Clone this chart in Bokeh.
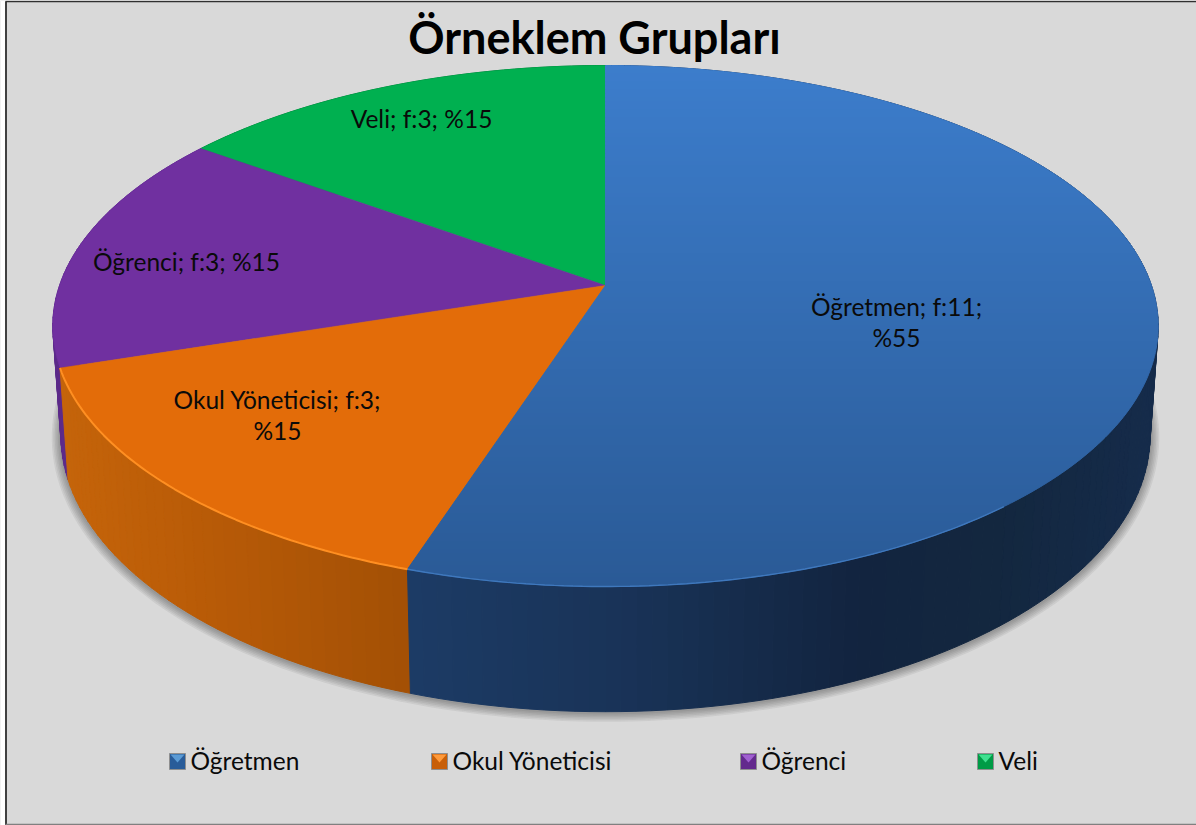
import numpy as np
from bokeh.plotting import figure
from bokeh.models import Range1d
from bokeh.core.properties import value
from bokeh.embed import file_html
from bokeh.resources import INLINE

# ---- data ----
title = "Örneklem Grupları"
categories = ["Öğretmen", "Okul Yöneticisi", "Öğrenci", "Veli"]
counts = [11, 3, 3, 3]
percents = [55, 15, 15, 15]
top_colors = ["#2f69ae", "#e36c09", "#7030a0", "#00b050"]
light_colors = ["#5b9bd5", "#ff9a3a", "#a060d0", "#40e090"]
# ---- layout (pixel positions of the page) ----
FONT = value("Lato")
CX = 605.0
K = 0.1555
TOP = dict(y0=285.0, A=254.2, B=546.0)
BOT = dict(y0=391.5, A=270.0, B=538.0)
label_xy = [(896, 321.5), (277, 414.5), (186, 260.5), (421, 118)]
label_wrap = [True, True, False, False]
legend_sq = [177, 439, 748, 985]

cum = np.cumsum([0] + counts) / sum(counts) * 2 * np.pi


def proj(t, g, grow=0.0):
    t = np.asarray(t, float)
    u, v = np.sin(t), np.cos(t)
    d = 1 + K * v
    return CX + (g["B"] + grow) * u / d, g["y0"] - grow * v - g["A"] * v / d


def mix(stops, x):
    xs = [s[0] for s in stops]
    ch = [[int(s[1][i:i + 2], 16) for s in stops] for i in (1, 3, 5)]
    return "#%02x%02x%02x" % tuple(int(round(np.interp(x, xs, c))) for c in ch)


def clip_band(poly, y1, y2):
    def clip(pts, keep, cross):
        out = []
        for i in range(len(pts)):
            a, b = pts[i - 1], pts[i]
            if keep(b):
                if not keep(a):
                    out.append(cross(a, b))
                out.append(b)
            elif keep(a):
                out.append(cross(a, b))
        return out

    def cut(y0):
        return lambda a, b: (a[0] + (y0 - a[1]) / (b[1] - a[1]) * (b[0] - a[0]), y0)

    pts = clip(poly, lambda p: p[1] >= y1, cut(y1))
    return clip(pts, lambda p: p[1] <= y2, cut(y2)) if pts else []


p = figure(width=1196, height=825, x_range=Range1d(0, 1196), y_range=Range1d(825, 0),
           output_backend="svg", toolbar_location=None,
           x_axis_location=None, y_axis_location=None,
           background_fill_color="#d9d9d9", border_fill_color="#d9d9d9",
           min_border=0, outline_line_color=None)
p.grid.visible = False

# frame of the picture
p.quad(left=[0], right=[5], top=[0], bottom=[825], fill_color="#ffffff", line_color=None)
p.segment([5.5], [1], [5.5], [825], line_color="#404040", line_width=2)
p.segment([5], [1], [1196], [1], line_color="#303030", line_width=1.5)
p.segment([5], [824], [1196], [824], line_color="#808080", line_width=1.5)

# soft shadow below the cylinder
ring = np.linspace(0, 2 * np.pi, 240)
for g in [9, 7.5, 6, 4.5, 3, 1.5]:
    sx, sy = proj(ring, BOT, grow=g)
    p.patch(sx, sy + 1, fill_color="#303030", fill_alpha=0.08, line_color=None)

# side wall, back to front
side_stops = [
    [(412, "#1c3b65"), (620, "#193358"), (860, "#12243f"), (1000, "#13273f"), (1150, "#152b4a")],
    [(60, "#c5640a"), (200, "#b95b07"), (408, "#a35005")],
    [(50, "#5c2a8a"), (80, "#5c2a8a")],
    [(200, "#007a38"), (600, "#007a38")],
]
quads = []
for i in range(len(counts)):
    n = max(2, int((cum[i + 1] - cum[i]) / (2 * np.pi) * 260))
    ts = np.linspace(cum[i], cum[i + 1], n + 1)
    for a, b in zip(ts[:-1], ts[1:]):
        xa, ya = proj(a, TOP)
        xb, yb = proj(b, TOP)
        xc, yc = proj(b, BOT)
        xd, yd = proj(a, BOT)
        quads.append((np.cos((a + b) / 2), i, [xa, xb, xc, xd], [ya, yb, yc, yd], (xa + xb) / 2))
quads.sort(key=lambda q: -q[0])
cols = [mix(side_stops[q[1]], q[4]) for q in quads]
p.patches([q[2] for q in quads], [q[3] for q in quads], fill_color=cols, line_color=cols, line_width=1)

# top face
for i in [3, 2, 1]:
    ts = np.linspace(cum[i], cum[i + 1], 90)
    rx, ry = proj(ts, TOP)
    p.patch([CX] + list(rx), [TOP["y0"]] + list(ry), fill_color=top_colors[i],
            line_color=top_colors[i], line_width=0.5)

ts = np.linspace(cum[0], cum[1], 260)
rx, ry = proj(ts, TOP)
blue_poly = [(CX, TOP["y0"])] + list(zip(rx, ry))
ymin, ymax = min(ry), max(ry)
edges = np.arange(ymin, ymax + 4, 4)
bx, by, bc = [], [], []
for y1, y2 in zip(edges[:-1], edges[1:]):
    c = clip_band(blue_poly, y1, y2)
    if c:
        bx.append([q[0] for q in c])
        by.append([q[1] for q in c])
        bc.append(mix([(65, "#3c7dcc"), (586, "#2a5a96")], (y1 + y2) / 2))
p.patches(bx, by, fill_color=bc, line_color=bc, line_width=1)

# rim highlights
ts = np.radians(np.linspace(140, 198, 70))
rx, ry = proj(ts, TOP)
p.line(rx, ry, line_color="#3f78bd", line_width=1.4)
ts = np.linspace(cum[1], cum[2], 60)
rx, ry = proj(ts, TOP)
p.line(rx, ry, line_color="#ff8f22", line_width=2)

# data labels
lx, ly, lt = [], [], []
for i, cat in enumerate(categories):
    head = f"{cat}; f:{counts[i]};"
    tail = f"%{percents[i]}"
    if label_wrap[i]:
        lx += [label_xy[i][0]] * 2
        ly += [label_xy[i][1] - 15.5, label_xy[i][1] + 15.5]
        lt += [head, tail]
    else:
        lx.append(label_xy[i][0])
        ly.append(label_xy[i][1])
        lt.append(f"{head} {tail}")
p.text(lx, ly, text=lt, text_font=FONT, text_font_size="24.5px", text_color="#0a0a0a",
       text_align="center", text_baseline="middle")

# title
p.text([594], [36], text=[title], text_font=FONT, text_font_style="bold", text_font_size="45px",
       text_color="#000000", text_align="center", text_baseline="middle")

# legend
ly0 = 761
base = [mix([(0, c), (1, "#000000")], 0.12) for c in top_colors]
p.rect(legend_sq, [ly0] * 4, width=16, height=16, fill_color=base, line_color="#8f8f8f", line_width=1)
p.patches([[x - 7, x + 7, x] for x in legend_sq], [[ly0 - 7, ly0 - 7, ly0 + 1]] * 4,
          fill_color=light_colors, line_color=None)
p.text([x + 13 for x in legend_sq], [ly0 - 1.5] * 4, text=categories, text_font=FONT, text_font_size="24.5px",
       text_color="#0a0a0a", text_align="left", text_baseline="middle")

open("out.html", "w").write(file_html(p, INLINE))
